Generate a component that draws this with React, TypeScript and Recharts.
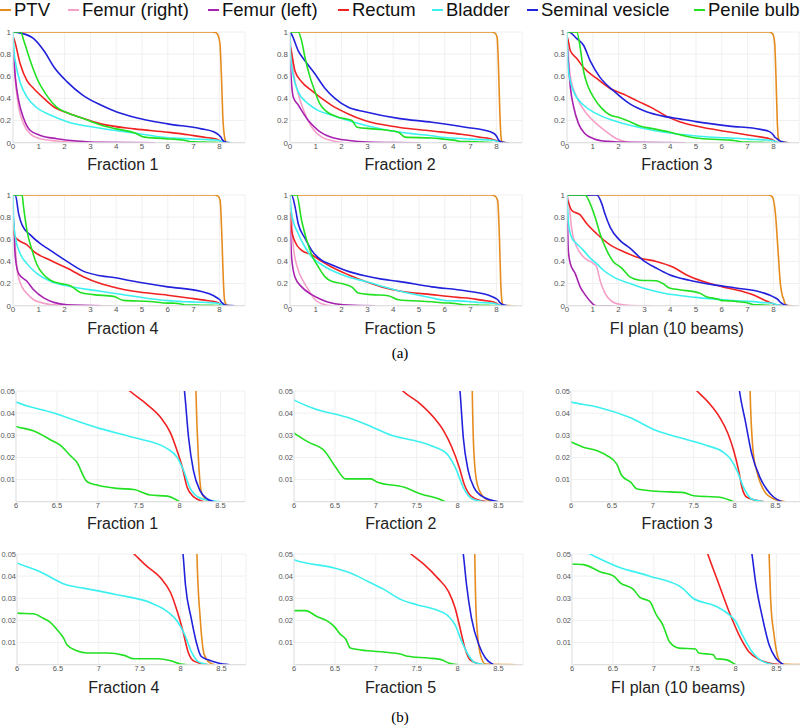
import React from 'react';
import { LineChart, Line, XAxis, YAxis, CartesianGrid } from 'recharts';

type Pt = [number, number]; // [dose, volume fraction]

const structures = ['PTV', 'Femur (right)', 'Femur (left)', 'Rectum', 'Bladder', 'Seminal vesicle', 'Penile bulb'];
const planTitles = ['Fraction 1', 'Fraction 2', 'Fraction 3', 'Fraction 4', 'Fraction 5', 'FI plan (10 beams)'];

const fullDoseTicks = [0, 1, 2, 3, 4, 5, 6, 7, 8];
const fullVolumeTicks = [0, 0.2, 0.4, 0.6, 0.8, 1];
const tailDoseTicks = [6, 6.5, 7, 7.5, 8, 8.5];
const tailVolumeTicks = [0.01, 0.02, 0.03, 0.04, 0.05];

// Fraction 1
const ptv1: Pt[] = [[0, 1], [7.7, 1], [7.85, 0.995], [7.95, 0.97], [8.02, 0.9], [8.08, 0.6], [8.13, 0.25], [8.2, 0.05], [8.23, 0.02], [8.27, 0.004], [8.35, 0]];
const femurR1: Pt[] = [[0, 0.86], [0.09, 0.56], [0.22, 0.32], [0.41, 0.17], [0.67, 0.08], [1.06, 0.036], [1.7, 0.015], [2.74, 0]];
const femurL1: Pt[] = [[0, 0.89], [0.09, 0.59], [0.22, 0.38], [0.41, 0.22], [0.67, 0.11], [1.06, 0.066], [1.7, 0.036], [2.48, 0.015], [3.39, 0.003], [5.5, 0]];
const rectum1: Pt[] = [[0, 0.96], [0.05, 0.93], [0.28, 0.71], [0.54, 0.56], [0.8, 0.49], [1.2, 0.4], [1.6, 0.32], [2.1, 0.27], [2.7, 0.22], [3.4, 0.17], [4.7, 0.125], [6.0, 0.095], [6.8, 0.072], [7.39, 0.05], [7.6, 0.044], [7.77, 0.038], [7.89, 0.031], [7.97, 0.023], [8.03, 0.016], [8.09, 0.0068], [8.17, 0.0023], [8.3, 0]];
const bladder1: Pt[] = [[0, 1], [0.05, 0.8], [0.1, 0.72], [0.3, 0.53], [0.55, 0.41], [0.9, 0.32], [1.45, 0.25], [2.1, 0.19], [3.4, 0.13], [4.7, 0.088], [6.0, 0.045], [6.42, 0.0405], [7.03, 0.033], [7.44, 0.029], [7.85, 0.024], [7.97, 0.02], [8.05, 0.014], [8.13, 0.006], [8.26, 0.0015], [8.5, 0]];
const vesicle1: Pt[] = [[0, 1], [0.3, 0.99], [0.8, 0.94], [1.2, 0.83], [1.6, 0.68], [2.1, 0.55], [2.7, 0.43], [3.4, 0.34], [4.0, 0.28], [4.7, 0.23], [6.0, 0.17], [7.3, 0.125], [7.8, 0.096], [8.0, 0.065], [8.06, 0.05], [8.11, 0.029], [8.17, 0.014], [8.25, 0.005], [8.33, 0.0015], [8.42, 0]];
const bulb1: Pt[] = [[0, 1], [0.3, 1], [0.42, 0.92], [0.67, 0.74], [0.93, 0.58], [1.3, 0.43], [1.7, 0.32], [2.1, 0.27], [2.7, 0.22], [3.4, 0.16], [4.0, 0.125], [4.7, 0.09], [5.1, 0.05], [5.6, 0.041], [6.0, 0.034], [6.21, 0.032], [6.42, 0.028], [6.54, 0.0255], [6.66, 0.021], [6.74, 0.018], [6.87, 0.009], [6.99, 0.0075], [7.23, 0.006], [7.44, 0.0055], [7.64, 0.003], [7.85, 0.0025], [8.0, 0]];

// Fraction 2
const ptv2: Pt[] = [[0, 1], [7.8, 1], [7.95, 0.99], [8.03, 0.95], [8.08, 0.7], [8.13, 0.3], [8.18, 0.05], [8.2, 0.022], [8.24, 0.008], [8.32, 0.002], [8.42, 0]];
const femurR2: Pt[] = [[0, 0.95], [0.13, 0.65], [0.32, 0.44], [0.55, 0.28], [0.84, 0.14], [1.23, 0.05], [1.6, 0.02], [2.1, 0]];
const femurL2: Pt[] = [[0, 1], [0.02, 0.7], [0.13, 0.41], [0.32, 0.34], [0.71, 0.2], [1.1, 0.11], [1.6, 0.05], [2.3, 0.02], [3.0, 0.006], [4.0, 0.001], [5.0, 0]];
const rectum2: Pt[] = [[0, 0.88], [0.04, 0.84], [0.19, 0.65], [0.45, 0.55], [0.84, 0.47], [1.23, 0.4], [1.6, 0.34], [2.26, 0.26], [2.9, 0.2], [4.2, 0.14], [5.5, 0.105], [6.5, 0.08], [7.0, 0.065], [7.33, 0.05], [7.55, 0.044], [7.71, 0.038], [7.83, 0.032], [7.93, 0.0246], [8.02, 0.0156], [8.08, 0.008], [8.16, 0.0027], [8.28, 0.0005], [8.36, 0]];
const bladder2: Pt[] = [[0, 1], [0.02, 0.8], [0.13, 0.6], [0.32, 0.46], [0.71, 0.35], [1.1, 0.29], [1.6, 0.25], [2.26, 0.2], [2.9, 0.157], [4.2, 0.096], [5.5, 0.062], [6.0, 0.046], [6.25, 0.042], [6.66, 0.038], [6.94, 0.034], [7.19, 0.03], [7.47, 0.0276], [7.67, 0.0254], [7.87, 0.0216], [7.97, 0.0156], [8.08, 0.0057], [8.18, 0.0012], [8.32, 0]];
const vesicle2: Pt[] = [[0, 1], [0.06, 0.98], [0.32, 0.83], [0.58, 0.74], [0.97, 0.62], [1.36, 0.49], [1.74, 0.4], [2.26, 0.32], [2.9, 0.28], [4.2, 0.22], [5.5, 0.185], [6.8, 0.14], [7.8, 0.096], [7.95, 0.075], [8.03, 0.05], [8.07, 0.029], [8.13, 0.014], [8.2, 0.0065], [8.32, 0.002], [8.5, 0]];
const bulb2: Pt[] = [[0, 1], [0.32, 1], [0.45, 0.92], [0.58, 0.77], [0.78, 0.59], [0.97, 0.46], [1.16, 0.35], [1.42, 0.28], [1.87, 0.23], [2.4, 0.2], [2.6, 0.14], [3.2, 0.125], [4.2, 0.095], [4.46, 0.05], [5.5, 0.042], [6.0, 0.031], [6.17, 0.027], [6.37, 0.023], [6.51, 0.0156], [6.63, 0.0103], [6.94, 0.0103], [7.02, 0.0088], [7.35, 0.0065], [7.55, 0.0035], [7.75, 0.0015], [7.85, 0]];

// Fraction 3
const ptv3: Pt[] = [[0, 1], [7.85, 1], [7.98, 0.98], [8.05, 0.9], [8.1, 0.6], [8.15, 0.2], [8.19, 0.05], [8.23, 0.0216], [8.27, 0.014], [8.36, 0.005], [8.48, 0.0012], [8.62, 0]];
const femurR3: Pt[] = [[0, 0.95], [0.13, 0.6], [0.38, 0.41], [0.77, 0.26], [1.15, 0.17], [1.54, 0.096], [1.92, 0.036], [2.31, 0.006], [2.5, 0]];
const femurL3: Pt[] = [[0, 0.9], [0.13, 0.5], [0.26, 0.32], [0.45, 0.17], [0.7, 0.08], [1.03, 0.036], [1.54, 0.012], [2.44, 0.003], [4.6, 0]];
const rectum3: Pt[] = [[0, 0.96], [0.03, 0.94], [0.13, 0.83], [0.38, 0.76], [0.64, 0.68], [1.15, 0.58], [1.67, 0.49], [2.18, 0.44], [2.7, 0.38], [3.33, 0.31], [3.85, 0.24], [4.36, 0.19], [5.0, 0.15], [6.3, 0.096], [7.0, 0.07], [7.54, 0.05], [7.7, 0.044], [7.82, 0.038], [7.92, 0.0307], [7.99, 0.023], [8.05, 0.014], [8.09, 0.0065], [8.15, 0.002], [8.36, 0]];
const bladder3: Pt[] = [[0, 1], [0.02, 0.8], [0.06, 0.65], [0.26, 0.46], [0.64, 0.34], [1.15, 0.26], [1.8, 0.2], [2.44, 0.157], [3.72, 0.096], [5.0, 0.06], [6.0, 0.045], [6.32, 0.0428], [6.72, 0.038], [7.05, 0.032], [7.38, 0.0284], [7.66, 0.0254], [7.86, 0.0224], [7.95, 0.0193], [8.03, 0.014], [8.11, 0.0065], [8.21, 0.0012], [8.36, 0]];
const vesicle3: Pt[] = [[0, 1], [0.06, 1], [0.38, 0.94], [0.64, 0.88], [0.9, 0.74], [1.28, 0.59], [1.8, 0.47], [2.44, 0.35], [3.08, 0.28], [3.72, 0.24], [4.36, 0.215], [5.0, 0.19], [6.3, 0.15], [7.5, 0.12], [7.85, 0.1], [8.0, 0.07], [8.06, 0.05], [8.13, 0.0367], [8.21, 0.0216], [8.31, 0.011], [8.39, 0.0057], [8.48, 0.002], [8.58, 0]];
const bulb3: Pt[] = [[0, 1], [0.38, 1], [0.51, 0.86], [0.64, 0.65], [0.83, 0.5], [1.03, 0.41], [1.35, 0.31], [1.67, 0.25], [2.05, 0.226], [2.44, 0.19], [2.82, 0.15], [3.33, 0.127], [3.97, 0.096], [4.49, 0.066], [5.0, 0.042], [6.0, 0.027], [6.15, 0.0246], [6.32, 0.023], [6.44, 0.0208], [6.56, 0.017], [6.62, 0.0118], [6.73, 0.0088], [6.81, 0.0057], [7.05, 0.0047], [7.38, 0.0041], [7.5, 0.0027], [7.82, 0.002], [7.99, 0]];

// Fraction 4
const ptv4: Pt[] = [[0, 1], [7.8, 1], [7.95, 0.99], [8.03, 0.95], [8.1, 0.6], [8.15, 0.25], [8.2, 0.05], [8.24, 0.021], [8.29, 0.0045], [8.36, 0.0008], [8.42, 0]];
const femurR4: Pt[] = [[0, 0.8], [0.03, 0.74], [0.16, 0.32], [0.35, 0.17], [0.54, 0.11], [0.8, 0.054], [1.06, 0.03], [1.45, 0.01], [2.0, 0.002], [3.8, 0]];
const femurL4: Pt[] = [[0, 0.86], [0.09, 0.44], [0.22, 0.29], [0.54, 0.22], [0.8, 0.144], [1.19, 0.07], [1.58, 0.03], [2.09, 0.009], [3.4, 0]];
const rectum4: Pt[] = [[0, 0.8], [0.05, 0.63], [0.22, 0.59], [0.54, 0.55], [0.8, 0.49], [1.45, 0.41], [2.09, 0.34], [2.74, 0.26], [3.39, 0.2], [4.03, 0.16], [4.68, 0.13], [6.0, 0.095], [6.8, 0.07], [7.43, 0.05], [7.59, 0.0444], [7.76, 0.039], [7.88, 0.0324], [7.96, 0.024], [8.03, 0.015], [8.09, 0.006], [8.17, 0.0015], [8.34, 0]];
const bladder4: Pt[] = [[0, 1], [0.03, 0.75], [0.09, 0.62], [0.28, 0.47], [0.54, 0.38], [0.93, 0.29], [1.45, 0.22], [2.09, 0.18], [3.39, 0.13], [4.68, 0.085], [6.0, 0.046], [6.28, 0.042], [6.61, 0.036], [6.81, 0.0346], [7.22, 0.0316], [7.64, 0.0279], [7.84, 0.024], [7.96, 0.0196], [8.05, 0.0136], [8.13, 0.006], [8.21, 0.0015], [8.34, 0]];
const vesicle4: Pt[] = [[0, 1], [0.09, 1], [0.22, 0.83], [0.35, 0.73], [0.67, 0.64], [1.06, 0.56], [1.45, 0.5], [2.09, 0.4], [2.74, 0.31], [3.39, 0.27], [4.03, 0.25], [4.68, 0.22], [6.0, 0.17], [7.26, 0.13], [7.78, 0.09], [7.95, 0.065], [8.03, 0.05], [8.06, 0.036], [8.13, 0.021], [8.19, 0.0105], [8.25, 0.0038], [8.33, 0.0023], [8.46, 0.0008], [8.6, 0]];
const bulb4: Pt[] = [[0, 1], [0.35, 1], [0.41, 0.89], [0.54, 0.68], [0.74, 0.5], [0.93, 0.37], [1.19, 0.28], [1.45, 0.23], [1.83, 0.2], [2.22, 0.18], [2.61, 0.12], [3.13, 0.1], [3.9, 0.084], [4.29, 0.048], [5.3, 0.038], [6.0, 0.0233], [6.2, 0.023], [6.32, 0.021], [6.4, 0.0193], [6.49, 0.0158], [6.57, 0.012], [6.61, 0.009], [6.73, 0.0063], [6.86, 0.0053], [7.1, 0.0053], [7.31, 0.0042], [7.43, 0.0027], [7.72, 0.0027], [7.88, 0.0018], [8.0, 0.0003], [8.08, 0]];

// Fraction 5
const ptv5: Pt[] = [[0, 1], [7.8, 1], [7.95, 0.99], [8.05, 0.95], [8.12, 0.6], [8.17, 0.2], [8.21, 0.05], [8.23, 0.021], [8.28, 0.0045], [8.34, 0.0003], [8.72, 0]];
const femurR5: Pt[] = [[0, 0.9], [0.06, 0.83], [0.13, 0.53], [0.32, 0.32], [0.52, 0.22], [0.71, 0.144], [0.97, 0.054], [1.23, 0.018], [1.61, 0]];
const femurL5: Pt[] = [[0, 0.83], [0.06, 0.44], [0.19, 0.26], [0.45, 0.17], [0.84, 0.1], [1.23, 0.054], [1.61, 0.024], [2.26, 0.006], [3.29, 0]];
const rectum5: Pt[] = [[0, 0.85], [0.06, 0.68], [0.19, 0.58], [0.45, 0.5], [0.84, 0.46], [1.23, 0.4], [1.61, 0.35], [2.26, 0.28], [2.9, 0.22], [3.55, 0.17], [4.2, 0.135], [5.5, 0.1], [6.5, 0.075], [7.0, 0.065], [7.43, 0.05], [7.6, 0.045], [7.76, 0.039], [7.89, 0.033], [7.97, 0.0256], [8.03, 0.0166], [8.09, 0.0075], [8.15, 0.0023], [8.3, 0]];
const bladder5: Pt[] = [[0, 1], [0.06, 0.83], [0.32, 0.65], [0.58, 0.53], [0.84, 0.44], [1.23, 0.37], [1.61, 0.32], [2.26, 0.26], [2.9, 0.22], [4.2, 0.135], [5.5, 0.07], [6.0, 0.0474], [6.49, 0.0437], [6.69, 0.0414], [6.9, 0.0377], [7.1, 0.034], [7.31, 0.0294], [7.51, 0.027], [7.72, 0.025], [7.89, 0.0218], [7.97, 0.018], [8.05, 0.0105], [8.13, 0.0045], [8.21, 0.001], [8.34, 0]];
const vesicle5: Pt[] = [[0, 1], [0.06, 1], [0.19, 0.9], [0.32, 0.74], [0.58, 0.61], [0.84, 0.5], [1.23, 0.41], [1.61, 0.37], [2.26, 0.31], [2.9, 0.27], [3.55, 0.24], [4.2, 0.22], [5.5, 0.17], [6.8, 0.135], [7.82, 0.084], [7.98, 0.065], [8.07, 0.05], [8.11, 0.036], [8.17, 0.021], [8.26, 0.009], [8.34, 0.003], [8.44, 0]];
const bulb5: Pt[] = [[0, 1], [0.26, 1], [0.45, 0.77], [0.65, 0.59], [0.84, 0.46], [1.1, 0.35], [1.36, 0.26], [1.61, 0.22], [2.0, 0.2], [2.39, 0.17], [2.65, 0.114], [3.17, 0.1], [3.81, 0.09], [4.2, 0.054], [5.5, 0.035], [6.0, 0.0244], [6.14, 0.0244], [6.28, 0.0218], [6.4, 0.0199], [6.49, 0.0173], [6.57, 0.0136], [6.63, 0.0117], [6.69, 0.0075], [6.9, 0.0063], [7.1, 0.0057], [7.31, 0.0047], [7.39, 0.0038], [7.64, 0.003], [7.8, 0.0023], [7.89, 0.0008], [8.01, 0]];

// FI plan (10 beams)
const ptvFi: Pt[] = [[0, 1], [7.8, 1], [7.95, 0.985], [8.08, 0.83], [8.18, 0.5], [8.27, 0.2], [8.35, 0.09], [8.41, 0.05], [8.43, 0.0286], [8.47, 0.0136], [8.51, 0.0045], [8.57, 0.0003], [8.8, 0]];
const femurRFi: Pt[] = [[0, 1], [0.06, 0.95], [0.19, 0.68], [0.38, 0.53], [0.64, 0.44], [1.03, 0.38], [1.15, 0.35], [1.28, 0.23], [1.47, 0.114], [1.73, 0.04], [2.05, 0.012], [2.5, 0.002], [3.33, 0]];
const femurLFi: Pt[] = [[0, 1], [0.02, 0.75], [0.05, 0.5], [0.13, 0.38], [0.32, 0.29], [0.51, 0.17], [0.7, 0.1], [0.9, 0.04], [1.03, 0.009], [1.15, 0], [1.8, 0]];
const rectumFi: Pt[] = [[0, 0.97], [0.03, 0.95], [0.19, 0.86], [0.51, 0.82], [0.77, 0.74], [1.15, 0.65], [1.67, 0.55], [2.18, 0.49], [2.82, 0.43], [3.46, 0.4], [4.1, 0.35], [4.62, 0.28], [5.26, 0.22], [6.03, 0.17], [6.79, 0.13], [7.3, 0.09], [7.5, 0.068], [7.66, 0.05], [7.8, 0.036], [7.92, 0.024], [8.04, 0.0136], [8.16, 0.006], [8.29, 0.0023], [8.41, 0.0008], [8.56, 0]];
const bladderFi: Pt[] = [[0, 1], [0.06, 0.74], [0.19, 0.61], [0.38, 0.56], [0.64, 0.5], [0.9, 0.43], [1.15, 0.38], [1.41, 0.32], [1.79, 0.26], [2.44, 0.2], [3.08, 0.15], [3.72, 0.114], [5.0, 0.075], [6.22, 0.05], [6.55, 0.0444], [6.95, 0.04], [7.35, 0.0346], [7.48, 0.03], [7.76, 0.0264], [7.92, 0.0226], [8.0, 0.0196], [8.08, 0.0136], [8.2, 0.006], [8.33, 0.0015], [8.49, 0]];
const vesicleFi: Pt[] = [[0, 1], [1.15, 1], [1.35, 0.92], [1.47, 0.83], [1.67, 0.71], [2.05, 0.59], [2.44, 0.52], [2.95, 0.41], [3.46, 0.34], [3.97, 0.28], [4.74, 0.23], [5.64, 0.19], [6.54, 0.16], [7.56, 0.12], [8.0, 0.08], [8.2, 0.05], [8.25, 0.036], [8.33, 0.021], [8.41, 0.009], [8.49, 0.003], [8.59, 0]];
const bulbFi: Pt[] = [[0, 1], [0.7, 1], [0.9, 0.92], [1.09, 0.8], [1.28, 0.65], [1.54, 0.5], [1.79, 0.4], [2.12, 0.34], [2.44, 0.26], [2.82, 0.23], [3.46, 0.225], [3.72, 0.2], [3.97, 0.16], [4.36, 0.144], [5.13, 0.114], [5.38, 0.084], [5.9, 0.055], [6.0, 0.0455], [6.14, 0.0452], [6.35, 0.0419], [6.51, 0.04], [6.59, 0.037], [6.75, 0.034], [6.83, 0.0304], [6.95, 0.0286], [7.03, 0.0226], [7.11, 0.018], [7.19, 0.0105], [7.31, 0.0075], [7.51, 0.0071], [7.55, 0.0053], [7.73, 0.0045], [7.76, 0.0027], [7.88, 0.0023], [8.0, 0]];

// one entry per plan, curves in legend order
const plans: Pt[][][] = [
  [ptv1, femurR1, femurL1, rectum1, bladder1, vesicle1, bulb1],
  [ptv2, femurR2, femurL2, rectum2, bladder2, vesicle2, bulb2],
  [ptv3, femurR3, femurL3, rectum3, bladder3, vesicle3, bulb3],
  [ptv4, femurR4, femurL4, rectum4, bladder4, vesicle4, bulb4],
  [ptv5, femurR5, femurL5, rectum5, bladder5, vesicle5, bulb5],
  [ptvFi, femurRFi, femurLFi, rectumFi, bladderFi, vesicleFi, bulbFi],
];

const colors = ['#e68c1e', '#f5a0c8', '#a822b0', '#f02222', '#3cf0f0', '#2222dc', '#22e022'];
const sans = '"Liberation Sans", Arial, sans-serif';

// plot-area geometry (page pixels)
const fullRows = [31.7, 195];
const tailRows = [390.7, 554.3];
const fullCols = [12.7, 290, 566.7];
const tailCols = [[16, 294.3, 570.7], [17.3, 294, 571.7]];
const legendLefts = [0, 68, 208, 338, 432, 527, 694];
const PLOT_H = 110.7;
const FULL_W = 232.2;
const TAIL_W = 229;
const Y_AXIS_W = 30;

interface PanelProps {
  curves: Pt[][];
  left: number;
  top: number;
  tail: boolean;
}

const Panel: React.FC<PanelProps> = ({ curves, left, top, tail }) => {
  const plotW = tail ? TAIL_W : FULL_W;
  const tickStyle = { fontSize: tail ? 7.5 : 8, fill: '#555', fontFamily: sans };
  return (
    <div style={{ position: 'absolute', left: left - Y_AXIS_W, top: top - 6 }}>
      <LineChart width={Y_AXIS_W + plotW + 4} height={PLOT_H + 20} margin={{ top: 6, right: 4, bottom: 0, left: 0 }}>
        <CartesianGrid stroke="#f0f0f0" />
        <XAxis
          type="number"
          dataKey="dose"
          domain={tail ? [6, 8.8] : [0, 9]}
          ticks={tail ? tailDoseTicks : fullDoseTicks}
          allowDataOverflow
          interval={0}
          height={14}
          tickSize={0}
          tickMargin={1}
          tickLine={false}
          axisLine={{ stroke: '#dcdcdc' }}
          tick={tickStyle}
        />
        <YAxis
          type="number"
          domain={tail ? [0, 0.05] : [0, 1]}
          ticks={tail ? tailVolumeTicks : fullVolumeTicks}
          allowDataOverflow
          interval={0}
          width={Y_AXIS_W}
          tickSize={0}
          tickMargin={tail ? 1 : 2}
          tickLine={false}
          axisLine={{ stroke: '#e4e4e4' }}
          tick={tickStyle}
        />
        {curves.map((pts, i) => (
          <Line
            key={structures[i]}
            data={pts.map(([dose, volume]) => ({ dose, volume }))}
            dataKey="volume"
            type="monotone"
            stroke={colors[i]}
            strokeWidth={1.6}
            dot={false}
            isAnimationActive={false}
          />
        ))}
      </LineChart>
    </div>
  );
};

const Title: React.FC<{ text: string; cx: number; cy: number }> = ({ text, cx, cy }) => (
  <div style={{ position: 'absolute', left: cx - 130, top: cy - 10, width: 260, lineHeight: '20px', textAlign: 'center', fontFamily: sans, fontSize: 16, color: '#222' }}>
    {text}
  </div>
);

const Legend: React.FC = () => (
  <>
    {structures.map((s, i) => (
      <div key={s} style={{ position: 'absolute', left: legendLefts[i], top: -1, display: 'flex', alignItems: 'center', whiteSpace: 'nowrap', fontFamily: sans, fontSize: 18.5, lineHeight: '22px', color: '#111' }}>
        <span style={{ display: 'inline-block', width: 11, height: 2, background: colors[i], marginRight: 3 }} />
        <span>{s}</span>
      </div>
    ))}
  </>
);

export default function App() {
  const panels: React.ReactNode[] = [];
  plans.forEach((curves, p) => {
    const row = Math.floor(p / 3);
    const col = p % 3;
    const fl = fullCols[col];
    const tl = tailCols[row][col];
    panels.push(<Panel key={`f${p}`} curves={curves} left={fl} top={fullRows[row]} tail={false} />);
    panels.push(<Title key={`ft${p}`} text={planTitles[p]} cx={fl + FULL_W / 2 - 6} cy={fullRows[row] + PLOT_H + 23} />);
    panels.push(<Panel key={`t${p}`} curves={curves} left={tl} top={tailRows[row]} tail />);
    panels.push(<Title key={`tt${p}`} text={planTitles[p]} cx={tl + TAIL_W / 2 - 8} cy={tailRows[row] + PLOT_H + 22.5} />);
  });

  return (
    <div style={{ position: 'absolute', left: 0, top: 0, width: 800, height: 725, overflow: 'hidden', background: '#fff' }}>
      <Legend />
      {panels}
      <div style={{ position: 'absolute', left: 370, top: 343, width: 60, textAlign: 'center', fontFamily: '"Liberation Serif", serif', fontSize: 15, lineHeight: '20px' }}>(a)</div>
      <div style={{ position: 'absolute', left: 370, top: 707, width: 60, textAlign: 'center', fontFamily: '"Liberation Serif", serif', fontSize: 15, lineHeight: '20px' }}>(b)</div>
    </div>
  );
}
